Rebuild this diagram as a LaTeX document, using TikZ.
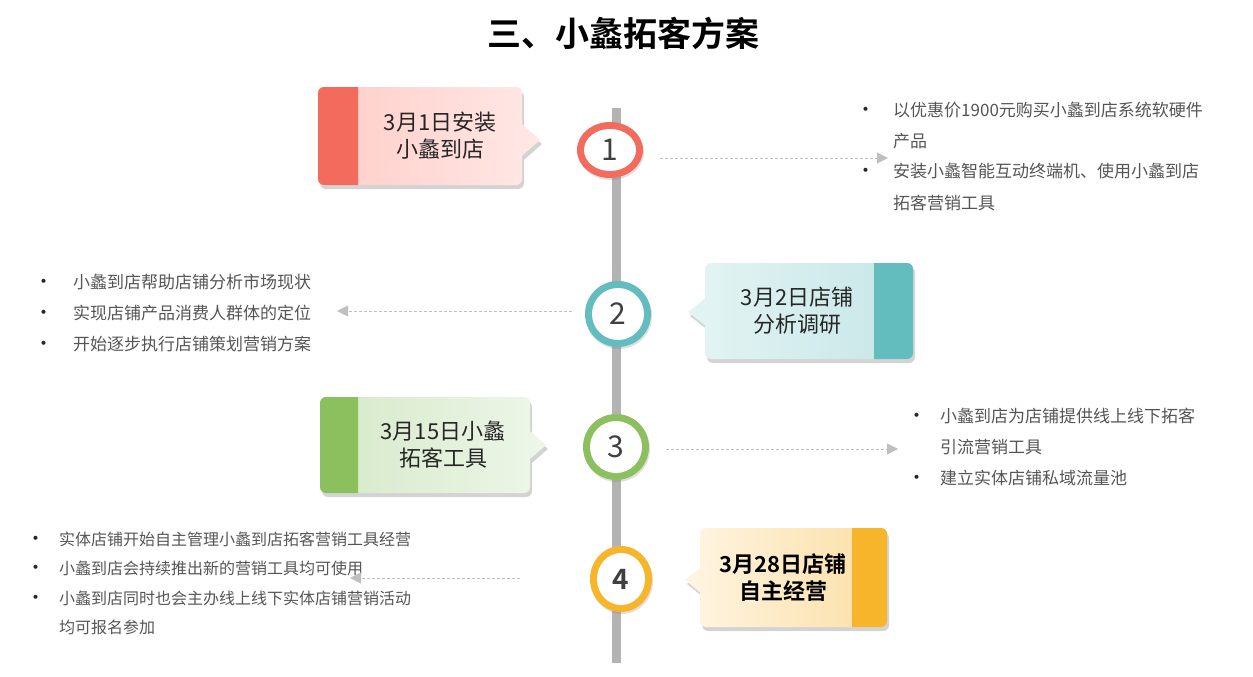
\documentclass[tikz,border=0pt]{standalone}
\usepackage{fontspec}
\setmainfont{Noto Sans CJK SC}[BoldFont={Noto Sans CJK SC Bold}]
\usetikzlibrary{shapes.geometric,shadows,arrows.meta}
\definecolor{redA}{HTML}{F26B5D}
\definecolor{redL}{HTML}{FFCDC7}
\definecolor{redR}{HTML}{FFE8E6}
\definecolor{tealA}{HTML}{63BDBE}
\definecolor{tealL}{HTML}{E4F4F4}
\definecolor{tealR}{HTML}{C6E6E7}
\definecolor{greenA}{HTML}{8CBF5E}
\definecolor{greenL}{HTML}{D5E9C8}
\definecolor{greenR}{HTML}{EEF6E9}
\definecolor{orangeA}{HTML}{F7B52C}
\definecolor{orangeL}{HTML}{FFF5E3}
\definecolor{orangeR}{HTML}{FBDFA5}
\definecolor{bargray}{HTML}{B3B3B3}
\definecolor{linkgray}{HTML}{BFBFBF}
\definecolor{notegray}{HTML}{555555}
\definecolor{boxtext}{HTML}{262626}
\definecolor{numgray}{HTML}{404040}
\newcommand{\bul}{\makebox[0pt]{\color{black!85}\fontsize{19}{19}\selectfont •}}
\begin{document}
\begin{tikzpicture}[x=1pt,y=-1pt]
	\tikzset{bar/.style = {draw=bargray, line width=9pt}}
	\tikzset{dot/.style = {shape=ellipse, inner sep=0pt, drop shadow={shadow xshift=1pt, shadow yshift=-2pt, opacity=.25}}}
	\tikzset{hole/.style = {shape=ellipse, fill=white, inner sep=0pt, text=numgray, font=\fontsize{30}{30}\selectfont}}
	\tikzset{link/.style = {draw=linkgray, line width=1pt, dash pattern=on 3pt off 2pt, -{Triangle[length=11pt,width=11pt]}}}
	\tikzset{card/.style = {drop shadow={shadow xshift=2pt, shadow yshift=-4pt, opacity=.35}}}
	\tikzset{label/.style = {align=center, text=boxtext, font=\fontsize{22}{27}\selectfont}}
	\tikzset{notes/.style = {anchor=base west, inner sep=0pt, text=notegray, font=\fontsize{17}{31}\selectfont}}
	\useasboundingbox (0,0) rectangle (1253,677);
	% Draw the title
	\node[font=\fontsize{34}{34}\selectfont\bfseries] (title) at (623,33) {三、小蠡拓客方案};
	% Draw the timeline bar
	\coordinate (top) at (616,108);
	\coordinate (bottom) at (616,663);
	\draw[bar] (top) -- (bottom);
	% Draw the cards
	\path[card, left color=redL, right color=redR] [rounded corners=6pt] (318,87) -- (522,87) -- (522,185) -- (318,185) -- cycle [sharp corners] (515,118) -- (540,140) -- (515,162) -- cycle;
	\fill[redA, rounded corners=6pt] (358,87) -- (318,87) -- (318,185) -- (358,185);
	\path[card, left color=tealL, right color=tealR] [rounded corners=6pt] (705,263) -- (913,263) -- (913,359) -- (705,359) -- cycle [sharp corners] (712,331) -- (688,312) -- (712,293) -- cycle;
	\fill[tealA, rounded corners=6pt] (874,263) -- (913,263) -- (913,359) -- (874,359);
	\path[card, left color=greenL, right color=greenR] [rounded corners=6pt] (320,397) -- (530,397) -- (530,493) -- (320,493) -- cycle [sharp corners] (523,425) -- (546,445) -- (523,465) -- cycle;
	\fill[greenA, rounded corners=6pt] (358,397) -- (320,397) -- (320,493) -- (358,493);
	\path[card, left color=orangeL, right color=orangeR] [rounded corners=6pt] (700,528) -- (887,528) -- (887,627) -- (700,627) -- cycle [sharp corners] (707,598) -- (685,580) -- (707,562) -- cycle;
	\fill[orangeA, rounded corners=6pt] (852,528) -- (887,528) -- (887,627) -- (852,627);
	\node[label] (label1) at (440,136) {3月1日安装\\小蠡到店};
	\node[label] (label2) at (797,311) {3月2日店铺\\分析调研};
	\node[label] (label3) at (443,445) {3月15日小蠡\\拓客工具};
	\node[label, text=black, font=\fontsize{22}{27}\selectfont\bfseries] (label4) at (783,578) {3月28日店铺\\自主经营};
	% Draw the steps
	\node[dot, fill=redA, minimum width=66pt, minimum height=56pt] (dot1) at (610,150) {};
	\node[hole, minimum width=52pt, minimum height=42pt] (num1) at (dot1) {1};
	\node[dot, fill=tealA, minimum width=66pt, minimum height=66pt] (dot2) at (618,314) {};
	\node[hole, minimum width=52pt, minimum height=52pt] (num2) at (dot2) {2};
	\node[dot, fill=greenA, minimum width=66pt, minimum height=66pt] (dot3) at (616,447) {};
	\node[hole, minimum width=52pt, minimum height=52pt] (num3) at (dot3) {3};
	\node[dot, fill=orangeA, minimum width=62pt, minimum height=66pt] (dot4) at (621,579) {};
	\node[hole, minimum width=48pt, minimum height=52pt, font=\fontsize{28}{28}\selectfont\bfseries] (num4) at (dot4) {4};
	% Draw the notes
	\node[notes] (note1) at (866,116) {\begin{tabular}[t]{@{}p{27pt}@{}l@{}}
		\bul & 以优惠价1900元购买小蠡到店系统软硬件\\
		& 产品\\
		\bul & 安装小蠡智能互动终端机、使用小蠡到店\\
		& 拓客营销工具
	\end{tabular}};
	\node[notes] (note2) at (44,288) {\begin{tabular}[t]{@{}p{29pt}@{}l@{}}
		\bul & 小蠡到店帮助店铺分析市场现状\\
		\bul & 实现店铺产品消费人群体的定位\\
		\bul & 开始逐步执行店铺策划营销方案
	\end{tabular}};
	\node[notes] (note3) at (917,422) {\begin{tabular}[t]{@{}p{23pt}@{}l@{}}
		\bul & 小蠡到店为店铺提供线上线下拓客\\
		& 引流营销工具\\
		\bul & 建立实体店铺私域流量池
	\end{tabular}};
	\node[notes, font=\fontsize{16}{29.5}\selectfont] (note4) at (36,545) {\begin{tabular}[t]{@{}p{23pt}@{}l@{}}
		\bul & 实体店铺开始自主管理小蠡到店拓客营销工具经营\\
		\bul & 小蠡到店会持续推出新的营销工具均可使用\\
		\bul & 小蠡到店同时也会主办线上线下实体店铺营销活动\\
		& 均可报名参加
	\end{tabular}};
	% Draw the links
	\coordinate (from1) at (660,158);
	\coordinate (to1) at (888,158);
	\coordinate (from2) at (572,311);
	\coordinate (to2) at (337,311);
	\coordinate (from3) at (666,449);
	\coordinate (to3) at (898,449);
	\coordinate (from4) at (520,578);
	\coordinate (to4) at (350,578);
	\draw[link] (from1) -- (to1);
	\draw[link] (from2) -- (to2);
	\draw[link] (from3) -- (to3);
	\draw[link] (from4) -- (to4);
\end{tikzpicture}
\end{document}
